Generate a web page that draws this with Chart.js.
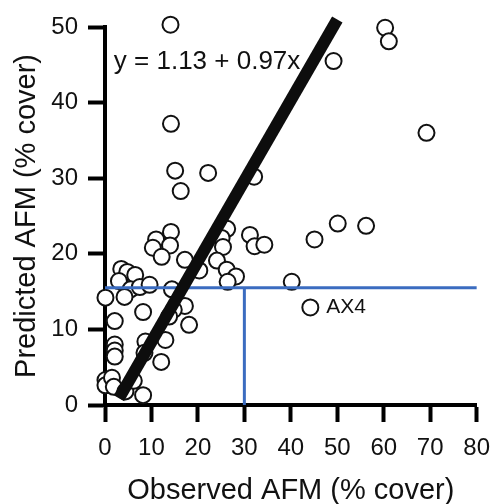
<!DOCTYPE html>
<html>
<head>
<meta charset="utf-8">
<script src="https://cdn.jsdelivr.net/npm/chart.js@4.4.1/dist/chart.umd.min.js"></script>
<style>
	html, body { margin: 0; padding: 0; background: #fff; }
	#wrap { width: 502px; height: 504px; }
</style>
</head>
<body>
<div id="wrap"><canvas id="chart" width="502" height="504"></canvas></div>
<script>
(function(){
	'use strict';

	// observed vs predicted AFM (% cover)
	var observed = [
		14.1, 60.3, 61.1, 49.2, 69.2, 14.2, 15.1, 16.3, 22.2, 32.1,
		14.2, 11.0, 10.3, 14.0, 12.2, 17.2, 20.3, 26.3, 25.1, 25.4,
		24.1, 26.2, 28.2, 26.4, 31.2, 32.2, 34.3, 45.1, 50.1, 56.2,
		40.2, 44.2,
		3.5, 4.8, 6.5, 3.0, 5.5, 7.5, 9.6, 0.1, 4.2, 14.4,
		2.1, 8.2, 2.1, 2.1, 2.1, 8.7, 8.5, 13.0, 12.1, 17.2,
		18.1, 14.8, 13.8, 0.1, 0.1, 1.5, 1.9, 4.4, 6.2, 8.2
	];
	var predicted = [
		50.3, 49.9, 48.1, 45.5, 36.0, 37.2, 31.0, 28.3, 30.7, 30.2,
		22.9, 21.9, 20.8, 21.1, 19.6, 19.2, 17.8, 23.3, 22.1, 20.9,
		19.1, 17.9, 17.0, 16.3, 22.5, 21.0, 21.2, 21.9, 24.0, 23.7,
		16.3, 12.9,
		18.0, 17.6, 17.2, 16.4, 15.3, 15.6, 15.9, 14.2, 14.3, 15.3,
		11.1, 12.3, 8.0, 7.2, 6.4, 8.4, 6.9, 8.6, 5.7, 13.1,
		10.6, 12.6, 11.7, 3.3, 2.6, 3.6, 2.4, 1.8, 3.2, 1.3
	];

	// fitted line ends (as drawn)
	var fitX = [3.0, 50.0];
	var fitY = [0.9, 51.0];

	// threshold lines
	var cutY = 15.5;
	var cutX = 30;
	var xRange = [0, 80];
	var yRange = [0, 50];
	var tickStep = 10;

	var equation = 'y = 1.13 + 0.97x';
	var pointName = 'AX4';

	var FONT = '"Liberation Sans", Arial, Helvetica, sans-serif';

	function pairs(xs, ys){
		var out = [];
		xs.forEach(function(x, i){ out.push({x: x, y: ys[i]}); });
		return out;
	}

	var textLabels = {
		id: 'textLabels',
		afterDatasetsDraw: function(chart){
			var ctx = chart.ctx;
			var xs = chart.scales.x;
			var ys = chart.scales.y;
			ctx.save();
			ctx.fillStyle = '#111';
			ctx.textAlign = 'left';
			ctx.textBaseline = 'middle';
			ctx.font = '26px ' + FONT;
			ctx.fillText(equation, xs.getPixelForValue(1.9), ys.getPixelForValue(45.4));
			ctx.font = '21px ' + FONT;
			ctx.fillText(pointName, xs.getPixelForValue(47.6), ys.getPixelForValue(12.9));
			ctx.restore();
		}
	};

	new Chart(document.getElementById('chart'), {
		type: 'scatter',
		data: {
			datasets: [
				{
					data: pairs(fitX, fitY),
					showLine: true,
					borderColor: '#0d0d0d',
					borderWidth: 12,
					borderCapStyle: 'butt',
					pointRadius: 0,
					clip: false
				},
				{
					data: [{x: xRange[0], y: cutY}, {x: xRange[1], y: cutY}],
					showLine: true,
					borderColor: '#3b6cc0',
					borderWidth: 3,
					pointRadius: 0,
					clip: false
				},
				{
					data: [{x: cutX, y: yRange[0]}, {x: cutX, y: cutY}],
					showLine: true,
					borderColor: '#3b6cc0',
					borderWidth: 3,
					pointRadius: 0,
					clip: false
				},
				{
					data: pairs(observed, predicted),
					pointRadius: 8,
					pointBorderWidth: 2,
					pointBackgroundColor: '#fff',
					pointBorderColor: '#111',
					clip: false
				}
			]
		},
		options: {
			responsive: false,
			animation: false,
			events: [],
			layout: { padding: { left: 0, right: 17, top: 27, bottom: 0 } },
			plugins: {
				legend: { display: false },
				tooltip: { enabled: false }
			},
			scales: {
				x: {
					type: 'linear',
					min: xRange[0],
					max: xRange[1],
					afterFit: function(s){ s.height = 99; },
					ticks: { stepSize: tickStep, color: '#111', padding: 12, maxRotation: 0, font: { family: FONT, size: 24 } },
					grid: { drawOnChartArea: false, drawTicks: true, tickLength: 17, tickWidth: 4, color: '#000', tickColor: '#000' },
					border: { display: true, color: '#000', width: 4 },
					title: { display: true, text: 'Observed AFM (% cover)', color: '#111', padding: { top: 0, bottom: 1 }, font: { family: FONT, size: 29, lineHeight: 0.8 } }
				},
				y: {
					type: 'linear',
					min: yRange[0],
					max: yRange[1],
					afterFit: function(s){ s.width = 105; },
					ticks: { stepSize: tickStep, color: '#111', padding: 10, font: { family: FONT, size: 24 } },
					grid: { drawOnChartArea: false, drawTicks: true, tickLength: 17, tickWidth: 4, color: '#000', tickColor: '#000' },
					border: { display: true, color: '#000', width: 4 },
					title: { display: true, text: 'Predicted AFM (% cover)', color: '#111', padding: { top: 15, bottom: 0 }, font: { family: FONT, size: 29, lineHeight: 0.8 } }
				}
			}
		},
		plugins: [textLabels]
	});
})();
</script>
</body>
</html>
